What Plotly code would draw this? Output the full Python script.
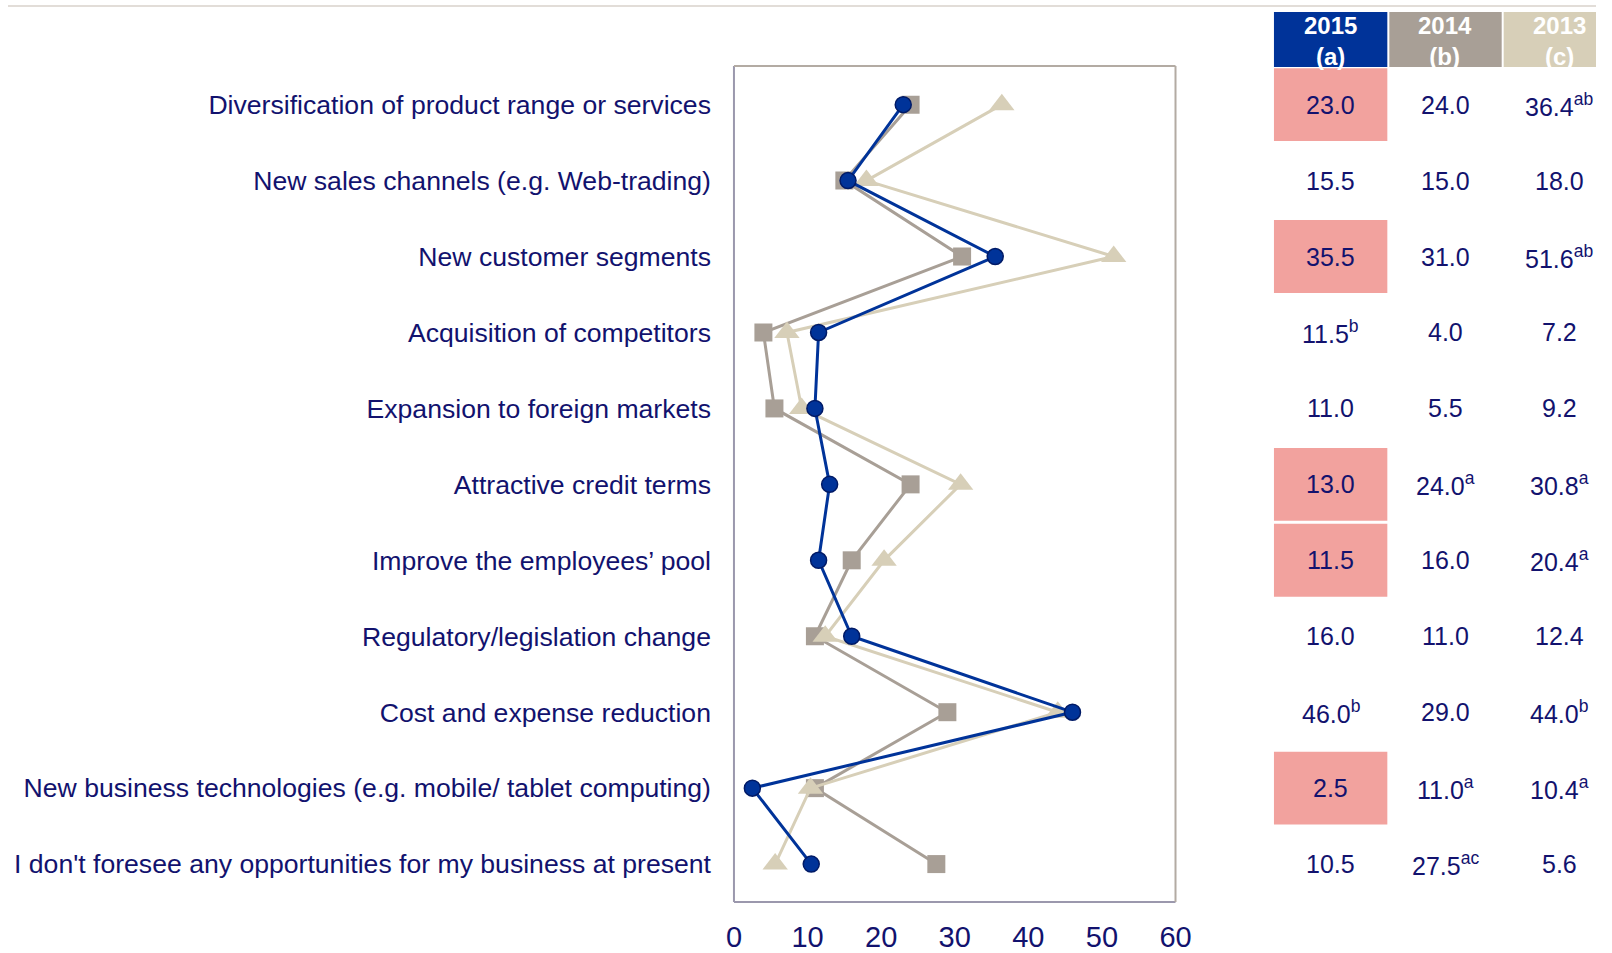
import plotly.graph_objects as go

W, H = 1612, 953
KX = 1.0095  # horizontal compensation observed in the rendered capture

categories = [
    "Diversification of product range or services",
    "New sales channels (e.g. Web-trading)",
    "New customer segments",
    "Acquisition of competitors",
    "Expansion to foreign markets",
    "Attractive credit terms",
    "Improve the employees\u2019 pool",
    "Regulatory/legislation change",
    "Cost and expense reduction",
    "New business technologies (e.g. mobile/ tablet computing)",
    "I don't foresee any opportunities for my business at present",
]
v2015 = [23.0, 15.5, 35.5, 11.5, 11.0, 13.0, 11.5, 16.0, 46.0, 2.5, 10.5]
v2014 = [24.0, 15.0, 31.0, 4.0, 5.5, 24.0, 16.0, 11.0, 29.0, 11.0, 27.5]
v2013 = [36.4, 18.0, 51.6, 7.2, 9.2, 30.8, 20.4, 12.4, 44.0, 10.4, 5.6]
sup2015 = ["", "", "", "b", "", "", "", "", "b", "", ""]
sup2014 = ["", "", "", "", "", "a", "", "", "", "a", "ac"]
sup2013 = ["ab", "", "ab", "", "", "a", "a", "", "b", "a", ""]
highlight2015 = [True, False, True, False, False, True, True, False, False, True, False]
headers = ["2015<br>(a)", "2014<br>(b)", "2013<br>(c)"]
x_ticks = [0, 10, 20, 30, 40, 50, 60]

C15 = "#003399"
C14 = "#a89f96"
C13 = "#d7cfb8"
PINK = "#f2a29e"
NAVY = "#12126e"
FONT = "Liberation Sans, Arial, sans-serif"

idx = list(range(len(categories)))


def px_x(p):
    return min(p * KX / W, 1.0)


def px_y(p):
    return 1 - p / H


PL, PR, PT, PB = 730, 1174, 66, 903

fig = go.Figure()
fig.add_trace(go.Scatter(x=v2014, y=idx, mode="lines+markers", name="2014",
                         line=dict(color=C14, width=3),
                         marker=dict(symbol="square", size=18, color=C14)))
fig.add_trace(go.Scatter(x=v2013, y=idx, mode="lines+markers", name="2013",
                         line=dict(color=C13, width=3),
                         marker=dict(symbol="triangle-up", size=22, color=C13)))
fig.add_trace(go.Scatter(x=v2015, y=idx, mode="lines+markers", name="2015",
                         line=dict(color=C15, width=3),
                         marker=dict(symbol="circle", size=16, color=C15,
                                     line=dict(color="#001a66", width=1.5))))

shapes = []
annotations = []

# top rule
shapes.append(dict(type="line", xref="paper", yref="paper", x0=0, x1=1,
                   y0=px_y(6), y1=px_y(6), line=dict(color="#e2ddd8", width=2)))

# plot frame
frame_a = "#9b98ad"
frame_b = "#b3aba3"
shapes += [
    dict(type="line", xref="paper", yref="paper", x0=px_x(PL), x1=px_x(PL),
         y0=px_y(PB), y1=px_y(PT), line=dict(color=frame_a, width=2)),
    dict(type="line", xref="paper", yref="paper", x0=px_x(PL), x1=px_x(PR),
         y0=px_y(PB), y1=px_y(PB), line=dict(color=frame_a, width=2)),
    dict(type="line", xref="paper", yref="paper", x0=px_x(PL), x1=px_x(PR),
         y0=px_y(PT), y1=px_y(PT), line=dict(color=frame_b, width=2)),
    dict(type="line", xref="paper", yref="paper", x0=px_x(PR), x1=px_x(PR),
         y0=px_y(PB), y1=px_y(PT), line=dict(color=frame_b, width=2)),
]

# table columns
col_left = [1273, 1389, 1504]
col_right = [1387, 1502, 1620]
col_center = [1330, 1445, 1560]
head_colors = [C15, C14, C13]
values = [v2015, v2014, v2013]
sups = [sup2015, sup2014, sup2013]
for c in range(3):
    shapes.append(dict(type="rect", xref="paper", yref="paper",
                       x0=px_x(col_left[c]), x1=px_x(col_right[c]),
                       y0=px_y(67), y1=px_y(12),
                       fillcolor=head_colors[c], line=dict(width=0), layer="below"))
    annotations.append(dict(xref="paper", yref="paper", x=px_x(col_center[c]), y=px_y(41),
                            text="<b>" + headers[c] + "</b>", showarrow=False,
                            font=dict(family=FONT, size=24, color="white"),
                            xanchor="center", yanchor="middle"))
    for i in idx:
        if c == 0 and highlight2015[i]:
            shapes.append(dict(type="rect", xref="paper", yref="y",
                               x0=px_x(col_left[c]), x1=px_x(col_right[c]),
                               y0=i - 0.48, y1=i + 0.48,
                               fillcolor=PINK, line=dict(width=0), layer="below"))
        txt = f"{values[c][i]:.1f}"
        if sups[c][i]:
            txt += f"<sup>{sups[c][i]}</sup>"
        annotations.append(dict(xref="paper", yref="y", x=px_x(col_center[c]), y=i,
                                text=txt, showarrow=False,
                                font=dict(family=FONT, size=25, color=NAVY),
                                xanchor="center", yanchor="middle"))

fig.update_layout(
    width=W, height=H, autosize=False,
    margin=dict(l=0, r=0, t=0, b=0),
    paper_bgcolor="white", plot_bgcolor="white",
    showlegend=False,
    shapes=shapes, annotations=annotations,
    xaxis=dict(domain=[px_x(PL), px_x(PR)], range=[0, 60],
               tickvals=x_ticks, ticktext=[str(t) for t in x_ticks],
               showgrid=False, zeroline=False, showline=False, ticks="",
               ticklabelstandoff=15,
               tickfont=dict(family=FONT, size=29, color=NAVY)),
    yaxis=dict(domain=[px_y(PB), px_y(PT)], range=[10.5, -0.51],
               tickvals=idx, ticktext=categories,
               showgrid=False, zeroline=False, showline=False, ticks="",
               ticklabelstandoff=22,
               tickfont=dict(family=FONT, size=26.6, color=NAVY)),
)

post = (
    "document.documentElement.style.margin='0px';"
    "document.documentElement.style.overflow='hidden';"
    "document.body.style.margin='0px';"
    "document.body.style.overflow='hidden';"
)

fig.write_html(
    "out.html",
    config={"responsive": False, "displayModeBar": False},
    post_script=post,
)
